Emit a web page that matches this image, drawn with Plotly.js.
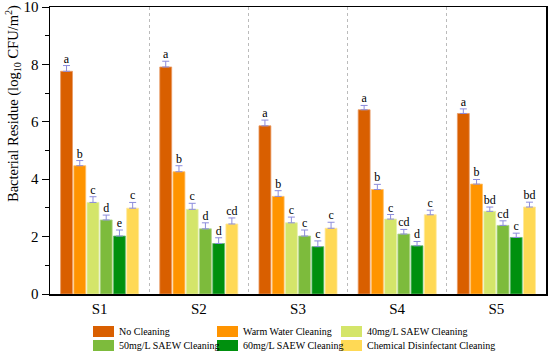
<!DOCTYPE html>
<html>
<head>
<meta charset="utf-8">
<script src="https://cdn.plot.ly/plotly-3.0.0.min.js"></script>
<style>html,body{margin:0;padding:0;background:#fff;}#chart{width:550px;height:352px;}</style>
</head>
<body>
<div id="chart"></div>
<script>
var categories = ['S1', 'S2', 'S3', 'S4', 'S5'];
var seriesNames = ['No Cleaning', 'Warm Water Cleaning', '40mg/L SAEW Cleaning',
                   '50mg/L SAEW Cleaning', '60mg/L SAEW Cleaning', 'Chemical Disinfectant Cleaning'];

var noCleaning   = [7.76, 7.91, 5.86, 6.42, 6.29];
var warmWater    = [4.47, 4.26, 3.40, 3.64, 3.83];
var saew40       = [3.19, 2.95, 2.48, 2.61, 2.88];
var saew50       = [2.58, 2.27, 2.02, 2.09, 2.39];
var saew60       = [2.02, 1.76, 1.65, 1.68, 1.97];
var chemical     = [2.99, 2.44, 2.29, 2.76, 3.03];

var errNoCleaning = [0.20, 0.20, 0.20, 0.15, 0.16];
var errWarmWater  = [0.18, 0.21, 0.20, 0.18, 0.16];
var errSaew40     = [0.20, 0.21, 0.20, 0.16, 0.15];
var errSaew50     = [0.17, 0.21, 0.21, 0.16, 0.16];
var errSaew60     = [0.21, 0.20, 0.20, 0.15, 0.15];
var errChemical   = [0.20, 0.21, 0.21, 0.16, 0.17];

var lettersNoCleaning = ['a', 'a', 'a', 'a', 'a'];
var lettersWarmWater  = ['b', 'b', 'b', 'b', 'b'];
var lettersSaew40     = ['c', 'c', 'c', 'c', 'bd'];
var lettersSaew50     = ['d', 'd', 'c', 'cd', 'cd'];
var lettersSaew60     = ['e', 'd', 'c', 'd', 'c'];
var lettersChemical   = ['c', 'cd', 'c', 'c', 'bd'];

var values  = [noCleaning, warmWater, saew40, saew50, saew60, chemical];
var errors  = [errNoCleaning, errWarmWater, errSaew40, errSaew50, errSaew60, errChemical];
var letters = [lettersNoCleaning, lettersWarmWater, lettersSaew40, lettersSaew50, lettersSaew60, lettersChemical];

var colors = ['#D95F00', '#FF9400', '#D4E56A', '#7DBB3C', '#00900E', '#FFD955'];
var edgeColors = ['#E89A66', '#FFBF66', '#E6F0A6', '#B1D68A', '#66BC6E', '#FFE899'];

var FONT = 'Liberation Serif, Times New Roman, serif';
var traces = [];
for (var i = 0; i < 6; i++) {
  traces.push({
    type: 'bar', name: seriesNames[i], x: categories, y: values[i],
    marker: {color: colors[i], line: {color: edgeColors[i], width: 0.8}},
    error_y: {type: 'data', array: errors[i], symmetric: false, arrayminus: [0,0,0,0,0],
              color: '#8C8CDC', thickness: 1, width: 3.5},
    showlegend: false, hoverinfo: 'skip'
  });
}
for (var j = 0; j < 6; j++) {
  var tops = values[j].map(function (v, k) { return v + errors[j][k]; });
  traces.push({
    type: 'scatter', mode: 'text', x: categories, y: tops, text: letters[j],
    textposition: 'top center', textfont: {family: FONT, size: 12, color: '#000'},
    showlegend: false, hoverinfo: 'skip', cliponaxis: false
  });
}

// layout geometry (pixels) for the hand-built legend
var M = {l: 50, r: 4, t: 7, b: 58};
var plotW = 550 - M.l - M.r, plotH = 352 - M.t - M.b;
function px(x) { return (x - M.l) / plotW; }
function py(y) { return (352 - M.b - y) / plotH; }
var legendColX = [93, 217, 341];
var legendRowY = [331.5, 345.5];

var shapes = [], annotations = [];
for (var n = 0; n < 6; n++) {
  var col = n % 3, row = Math.floor(n / 3);
  var x0 = legendColX[col], yc = legendRowY[row];
  shapes.push({
    type: 'rect', xref: 'paper', yref: 'paper',
    x0: px(x0), x1: px(x0 + 21), y0: py(yc + 5.5), y1: py(yc - 5.5),
    fillcolor: colors[n], line: {width: 0}, layer: 'above'
  });
  annotations.push({
    text: seriesNames[n], xref: 'paper', yref: 'paper', x: px(x0 + 24), y: py(yc),
    xanchor: 'left', yanchor: 'middle', showarrow: false,
    font: {family: FONT, size: 10, color: '#000'}
  });
}
annotations.push({
  text: 'Bacterial Residue (log<sub>10</sub> CFU/m<sup>2</sup>)',
  xref: 'paper', yref: 'paper', x: px(13), y: py(104),
  xanchor: 'center', yanchor: 'middle', textangle: -90, showarrow: false,
  font: {family: FONT, size: 14.5, color: '#000'}
});

var layout = {
  width: 550, height: 352,
  margin: M,
  paper_bgcolor: '#fff', plot_bgcolor: '#fff',
  font: {family: FONT, size: 14, color: '#000'},
  barmode: 'group', bargap: 0.2, bargroupgap: 0.1,
  scattermode: 'group', scattergap: 0.2,
  showlegend: false,
  xaxis: {
    type: 'category', range: [-0.5, 4.5], tickson: 'boundaries',
    showgrid: true, gridcolor: '#BBBBBB', gridwidth: 1, griddash: '3px,3px',
    ticks: '', showline: true, linecolor: '#000', linewidth: 1.5, mirror: true,
    tickfont: {family: FONT, size: 15}, zeroline: false
  },
  yaxis: {
    range: [0, 10], dtick: 2, tick0: 0, ticks: 'outside', ticklen: 7, tickwidth: 1, tickcolor: '#000',
    minor: {dtick: 1, ticks: 'outside', ticklen: 4, tickwidth: 1, tickcolor: '#000', showgrid: false},
    showgrid: false, zeroline: false, showline: true, linecolor: '#000', linewidth: 1.5, mirror: true,
    tickfont: {family: FONT, size: 15}, ticklabeloverflow: 'allow'
  },
  shapes: shapes,
  annotations: annotations
};

Plotly.newPlot('chart', traces, layout, {displayModeBar: false, staticPlot: true});
</script>
</body>
</html>
